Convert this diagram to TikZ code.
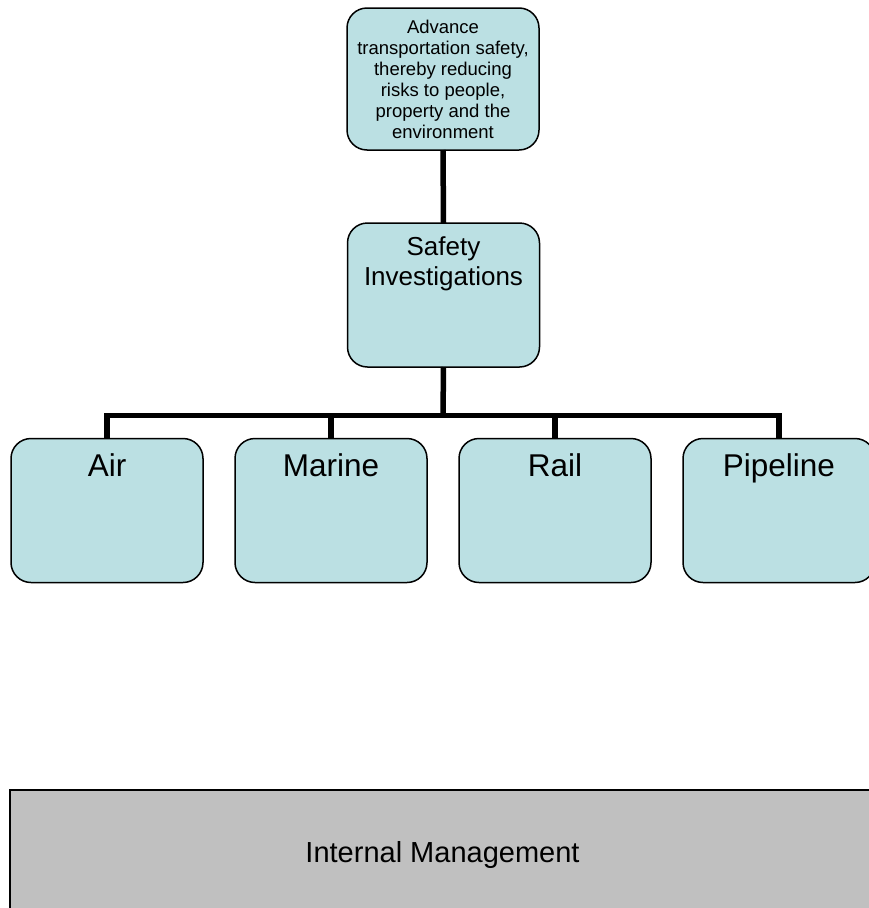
\documentclass[tikz,border=0pt]{standalone}
\usepackage{fontspec}
\setmainfont{Liberation Sans}
\definecolor{boxblue}{HTML}{BBE0E3}
\definecolor{mgmtgray}{HTML}{C0C0C0}
\begin{document}
\begin{tikzpicture}[x=1pt, y=-1pt,
  unitbox/.style={draw=black, line width=1.5pt, fill=boxblue,
    rounded corners=20pt, minimum width=192pt, minimum height=144pt,
    inner sep=0pt, outer sep=0pt},
  caption/.style={inner sep=0pt, outer sep=0pt, align=center},
  link/.style={line width=5.5pt, draw=black},
]
% page frame
\clip (0,0) rectangle (869,908);
\fill[white] (0,0) rectangle (869,908);

% mission and programme boxes
\node[unitbox, align=center, minimum height=142pt,
      font=\fontsize{18.5}{21}\selectfont] (goal) at (443,79)
  {Advance\\transportation safety,\\thereby reducing\\risks to people,\\property and the\\environment};
\node[unitbox] (safety) at (443.5,295) {};
\node[caption, anchor=north, font=\fontsize{26}{30}\selectfont] (safetytxt)
  at (443.5,237) {Safety\\Investigations};

% modal branches
\foreach \nm/\xx/\txt in {air/107/Air, marine/331/Marine, rail/555/Rail, pipe/779/Pipeline}{
  \node[unitbox] (\nm) at (\xx,510.5) {};
  \node[caption, anchor=base, font=\fontsize{31.5}{36}\selectfont] (\nm txt)
    at (\xx,476.5) {\txt};
}

% internal management band
\node[draw=black, line width=2pt, fill=mgmtgray, minimum width=865pt,
      minimum height=130pt, inner sep=0pt, outer sep=0pt,
      font=\fontsize{29}{34}\selectfont] (internal) at (442.5,855)
  {Internal Management};

% connectors
\coordinate (bus) at (443,415.5);
\draw[link] (goal.south) -- (safety.north);
\draw[link] (safety.south) -- (bus);
\draw[link] (air.north) |- (bus) -| (pipe.north);
\draw[link] (marine.north) -- (marine.north |- bus);
\draw[link] (rail.north) -- (rail.north |- bus);
\end{tikzpicture}
\end{document}
